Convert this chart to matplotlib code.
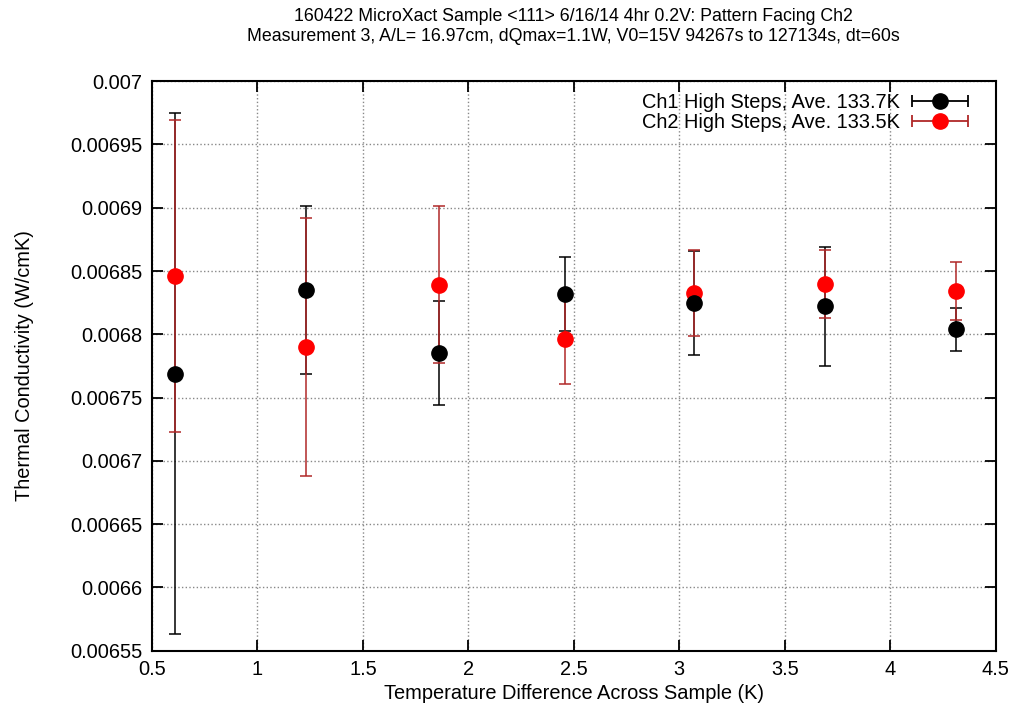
import numpy as np
import matplotlib.pyplot as plt
from matplotlib.container import ErrorbarContainer
from matplotlib.legend_handler import HandlerErrorbar

plt.rcParams['font.family'] = ['Liberation Sans', 'DejaVu Sans']

# temperature difference across sample (K)
dT = [0.61, 1.23, 1.86, 2.46, 3.07, 3.69, 4.31]

# Ch1 high steps
k_ch1 = [0.006769, 0.006835, 0.006785, 0.006832, 0.006825, 0.006822, 0.006804]
err_ch1 = [0.000206, 0.000066, 0.000041, 0.000029, 0.000041, 0.000047, 0.000017]

# Ch2 high steps
k_ch2 = [0.006846, 0.006790, 0.006839, 0.006796, 0.006833, 0.006840, 0.006834]
err_ch2 = [0.000123, 0.000102, 0.000062, 0.000035, 0.000034, 0.000027, 0.000023]

label_ch1 = 'Ch1 High Steps, Ave. 133.7K'
label_ch2 = 'Ch2 High Steps, Ave. 133.5K'

red_bar = '#b02828'
fs = 14.4

fig = plt.figure(figsize=(10.13, 7.12), dpi=100)
ax = fig.add_axes([0.150, 0.086, 0.833, 0.800])

# error bars first (red bars over black), then markers (black over red)
ax.errorbar(dT, k_ch1, yerr=err_ch1, fmt='none', ecolor='black',
            elinewidth=1.1, capsize=4, capthick=1.1, zorder=2)
ax.errorbar(dT, k_ch2, yerr=err_ch2, fmt='none', ecolor=red_bar,
            elinewidth=1.1, capsize=4, capthick=1.1, zorder=3)
ax.plot(dT, k_ch2, 'o', color='red', markersize=11, zorder=4)
ax.plot(dT, k_ch1, 'o', color='black', markersize=11, zorder=5)

# legend proxies with horizontal error bars like the gnuplot key
h1 = ax.errorbar([np.nan], [np.nan], xerr=[1], fmt='o', color='black',
                 ecolor='black', markersize=11, elinewidth=1.3,
                 capsize=4, capthick=1.3, label=label_ch1)
h2 = ax.errorbar([np.nan], [np.nan], xerr=[1], fmt='o', color='red',
                 ecolor=red_bar, markersize=11, elinewidth=1.3,
                 capsize=4, capthick=1.3, label=label_ch2)
ax.legend(handles=[h1, h2], loc='upper right', frameon=False,
          markerfirst=False, fontsize=fs, handlelength=2.9,
          bbox_to_anchor=(0.978, 0.994), borderaxespad=0,
          labelspacing=0.08, handletextpad=0.55,
          handler_map={ErrorbarContainer: HandlerErrorbar(xerr_size=1.4)})

ax.set_xlim(0.5, 4.5)
ax.set_ylim(0.00655, 0.007)
ax.set_xticks(np.arange(0.5, 4.51, 0.5))
ax.set_yticks(np.arange(0.00655, 0.007001, 0.00005))
ax.set_xticklabels(['0.5', '1', '1.5', '2', '2.5', '3', '3.5', '4', '4.5'])
ax.set_yticklabels(['0.00655', '0.0066', '0.00665', '0.0067', '0.00675',
                    '0.0068', '0.00685', '0.0069', '0.00695', '0.007'])

ax.grid(True, linestyle=':', color='#888888', linewidth=1.0)
ax.tick_params(direction='in', length=8, width=1.3, top=True, right=True,
               labelsize=fs, pad=7)
for s in ax.spines.values():
    s.set_linewidth(1.5)

ax.set_xlabel('Temperature Difference Across Sample (K)', fontsize=fs, labelpad=3)
ax.set_ylabel('Thermal Conductivity (W/cmK)', fontsize=fs, labelpad=26)
ax.set_title('160422 MicroXact Sample <111> 6/16/14 4hr 0.2V: Pattern Facing Ch2\n'
             'Measurement 3, A/L= 16.97cm, dQmax=1.1W, V0=15V 94267s to 127134s, dt=60s',
             fontsize=12.8, pad=29, linespacing=1.2)

fig.savefig('out.png', dpi=100)
